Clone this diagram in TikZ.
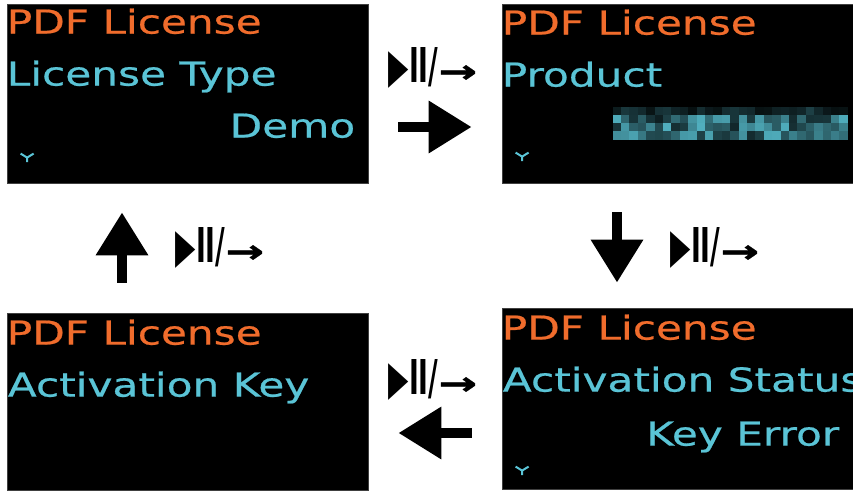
\documentclass[tikz,border=0pt]{standalone}
\usepackage{fontspec}
\usepackage{xcolor}
\usepackage{tikz}
\usetikzlibrary{arrows.meta,positioning}

\newfontfamily\lcdfont[FakeStretch=1.28,FakeBold=0.6]{DejaVu Sans}
\newfontfamily\keyfont[FakeStretch=0.55]{DejaVu Sans}
\newfontfamily\arrfont[FakeStretch=1.45,FakeBold=1]{DejaVu Sans}
\definecolor{lcdorange}{RGB}{240,108,44}
\definecolor{lcdteal}{RGB}{90,196,214}

\begin{document}
\begin{tikzpicture}[x=1pt,y=1pt,
    screen/.style={draw=black!75,fill=black,line width=0.8pt,inner sep=0pt},
    hdr/.style={text=lcdorange,font=\lcdfont\fontsize{33}{33}\selectfont,inner sep=0pt,anchor=base west},
    item/.style={text=lcdteal,font=\lcdfont\fontsize{33}{33}\selectfont,inner sep=0pt,anchor=base west},
    value/.style={item,anchor=base east},
    chev/.style={draw=lcdteal,line width=2pt},
    bigarrow/.style={line width=10pt,-{Triangle[length=43pt,width=50pt]}},
    keylbl/.style={inner sep=0pt,font=\keyfont}]
  \useasboundingbox[fill=white] (0,0) rectangle (853,490);
  \node[screen,minimum width=361pt,minimum height=179pt] (tl) at (187.5,396.5) {};
  \node[screen,minimum width=351pt,minimum height=179pt] (tr) at (677.5,396.5) {};
  \node[screen,minimum width=361pt,minimum height=177pt] (bl) at (187.5,88.5) {};
  \node[screen,minimum width=351pt,minimum height=181pt] (br) at (677.5,91.5) {};

  \node[hdr] (tlhdr) at ([shift={(0,-30)}]tl.north west) {PDF License};
  \node[item] (tlitem) at ([shift={(0,-82)}]tl.north west) {License Type};
  \node[value] (tlval) at ([shift={(-13,-134)}]tl.north east) {Demo};
  \draw[chev] ([shift={(14,-150)}]tl.north west) -- ++(6.5,-4) -- ++(6.5,4) ++(-6.5,-4) -- ++(0,-4.5);

  \node[hdr] (trhdr) at ([shift={(0,-31)}]tr.north west) {PDF License};
  \node[item] (tritem) at ([shift={(0,-83)}]tr.north west) {Product};
  \pgfmathsetseed{42}
  \foreach \c in {0,...,27}
    \foreach \r in {0,...,3} {
      \pgfmathtruncatemacro\v{\r==0 ? 8+25*rnd : 15+75*rnd}
      \fill[lcdteal!\v!black] ([shift={(111+\c*8.4,-103-\r*8.25)}]tr.north west) rectangle ++(8.4,-8.25);
    }
  \draw[chev] ([shift={(14,-149)}]tr.north west) -- ++(6.5,-4) -- ++(6.5,4) ++(-6.5,-4) -- ++(0,-4.5);

  \node[hdr] (blhdr) at ([shift={(0,-32)}]bl.north west) {PDF License};
  \node[item] (blitem) at ([shift={(1,-84)}]bl.north west) {Activation Key};

  \node[hdr] (brhdr) at ([shift={(0,-32)}]br.north west) {PDF License};
  \node[item] (britem) at ([shift={(1,-84)}]br.north west) {Activation Status};
  \node[value] (brval) at ([shift={(-14,-138)}]br.north east) {Key Error};
  \draw[chev] ([shift={(14,-159)}]br.north west) -- ++(6.5,-4) -- ++(6.5,4) ++(-6.5,-4) -- ++(0,-4.5);

  \draw[bigarrow,shorten <=30pt,shorten >=30pt] ([yshift=-33.5pt]tl.east) -- ([yshift=-33.5pt]tr.west)
    node[keylbl,midway,yshift=59pt,xshift=-2pt] {\fontsize{48}{48}\selectfont ▶\bfseries II/{\arrfont\fontsize{32}{32}\selectfont →}};
  \draw[bigarrow,shorten <=29pt,shorten >=25pt] ([xshift=-60.5pt]tr.south) -- ([xshift=-60.5pt]br.north)
    node[keylbl,midway,xshift=98pt,yshift=-2.5pt] {\fontsize{48}{48}\selectfont ▶\bfseries II/{\arrfont\fontsize{32}{32}\selectfont →}};
  \draw[bigarrow,shorten <=30pt,shorten >=30pt] ([yshift=-34.5pt]br.west) -- ([yshift=-31.5pt]bl.east)
    node[keylbl,midway,yshift=53pt,xshift=-2pt] {\fontsize{48}{48}\selectfont ▶\bfseries II/{\arrfont\fontsize{32}{32}\selectfont →}};
  \draw[bigarrow,shorten <=30pt,shorten >=29pt] ([xshift=-65.5pt]bl.north) -- ([xshift=-65.5pt]tl.south)
    node[keylbl,midway,xshift=98pt] {\fontsize{48}{48}\selectfont ▶\bfseries II/{\arrfont\fontsize{32}{32}\selectfont →}};
\end{tikzpicture}
\end{document}
